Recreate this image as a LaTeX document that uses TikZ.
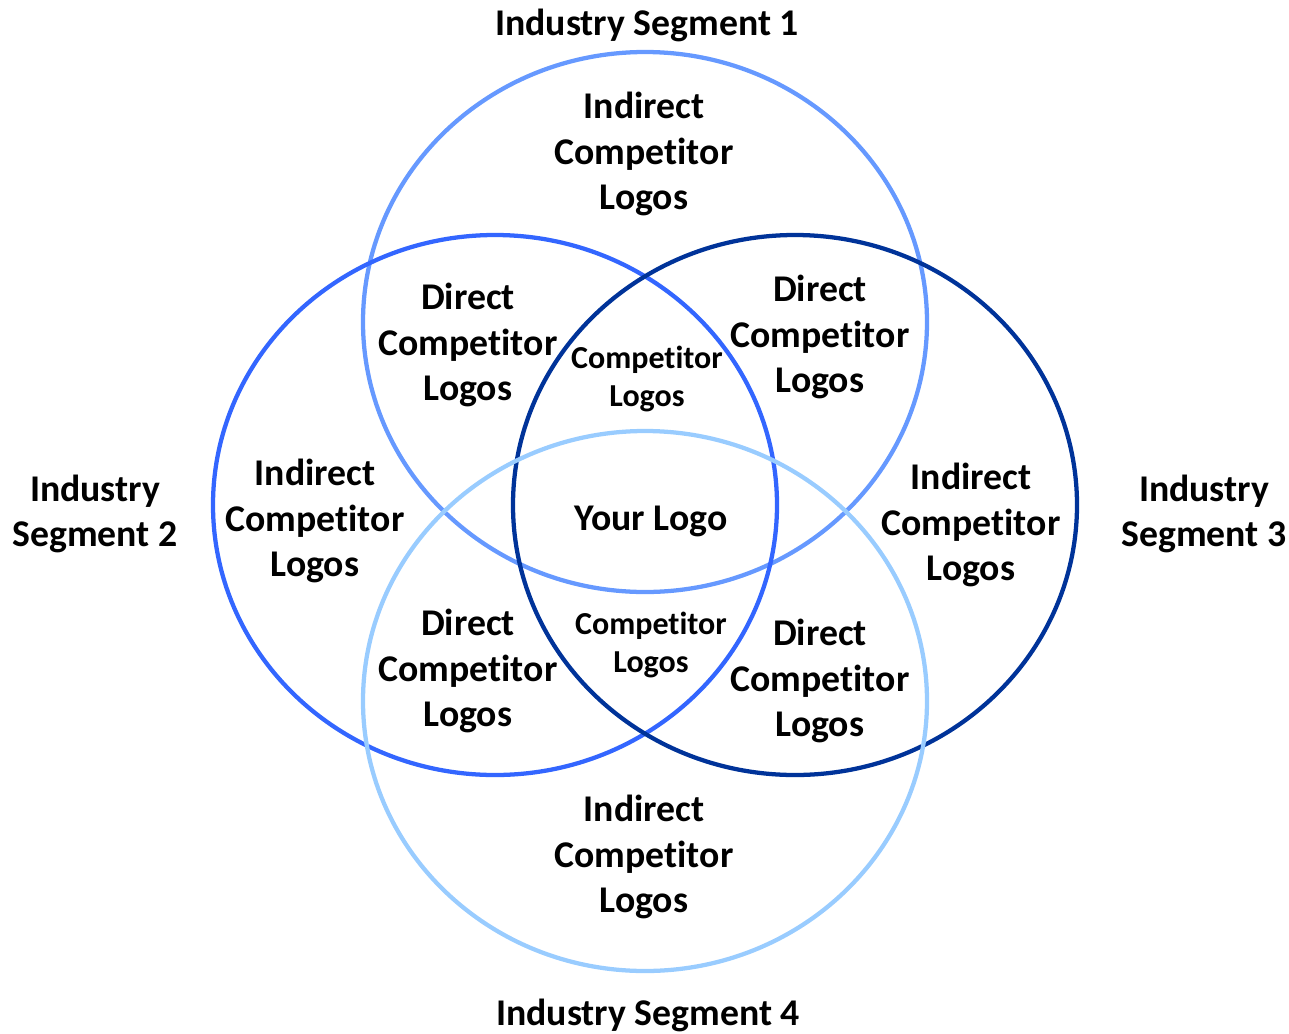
\documentclass[tikz,border=0pt]{standalone}
\usepackage{fontspec}
\setmainfont[Ligatures=NoCommon]{Carlito}
\usepackage{tikz}

\definecolor{segA}{HTML}{6699FF}
\definecolor{segB}{HTML}{3366FF}
\definecolor{segC}{HTML}{003399}
\definecolor{segD}{HTML}{99CCFF}

\begin{document}
\begin{tikzpicture}[x=0.75pt, y=-0.75pt,
    ring/.style={line width=3.2pt},
    big/.style={align=center, font=\fontsize{28.3}{34}\selectfont\bfseries, inner sep=0pt},
    small/.style={align=center, font=\fontsize{24}{29}\selectfont\bfseries, inner sep=0pt}]
    \useasboundingbox (0,0) rectangle (1289,1033);

    % the four segments
    \draw[ring, segA] (645,322) ellipse [x radius=282, y radius=270];
    \draw[ring, segB] (495,505) ellipse [x radius=282, y radius=270];
    \draw[ring, segC] (795,505) ellipse [x radius=282, y radius=270];
    \draw[ring, segD] (645,701) ellipse [x radius=282, y radius=270];

    % segment titles
    \node (seg1) [big] at (647,25) {Industry Segment 1};
    \node (seg2) [big] at (95,514) {Industry\\Segment 2};
    \node (seg3) [big] at (1204,514) {Industry\\Segment 3};
    \node (seg4) [big] at (648,1015) {Industry Segment 4};

    % indirect
    \node (ind1) [big] at (644,154) {Indirect\\Competitor\\Logos};
    \node (ind2) [big] at (315,521) {Indirect\\Competitor\\Logos};
    \node (ind3) [big] at (971,525) {Indirect\\Competitor\\Logos};
    \node (ind4) [big] at (644,857) {Indirect\\Competitor\\Logos};

    % direct
    \node (dir12) [big] at (468,345) {Direct\\Competitor\\Logos};
    \node (dir13) [big] at (820,337) {Direct\\Competitor\\Logos};
    \node (dir24) [big] at (468,671) {Direct\\Competitor\\Logos};
    \node (dir34) [big] at (820,681) {Direct\\Competitor\\Logos};

    % middle
    \node (mid123) [small] at (647,379) {Competitor\\Logos};
    \node (mid234) [small] at (651,645) {Competitor\\Logos};
    \node (yours) [big] at (651,521) {Your Logo};
\end{tikzpicture}
\end{document}
